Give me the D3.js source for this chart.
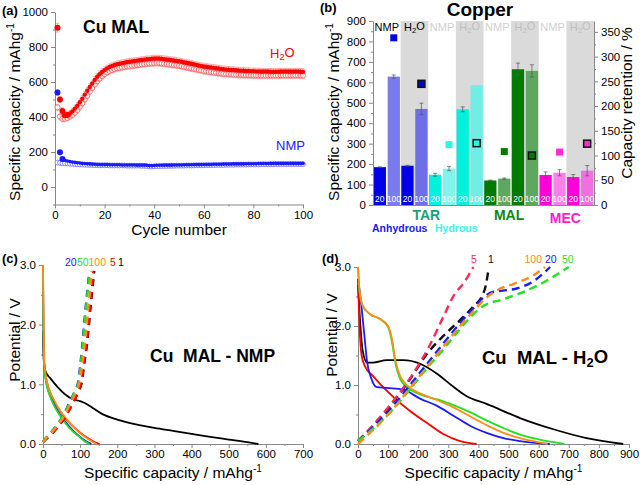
<!DOCTYPE html>
<html>
<head>
<meta charset="utf-8">
<script src="https://cdn.jsdelivr.net/npm/d3@7"></script>
<style>
  body { margin: 0; background: #fff; }
  svg { font-family: "Liberation Sans", Arial, sans-serif; }
  .ax path, .ax line { stroke: #888; }
  .ax text { fill: #000; font-size: 11.5px; }
</style>
</head>
<body>
<svg id="fig" width="640" height="485"></svg>
<script>
// ---------- (a) cycling data, mAh/g per cycle 1..100 ----------
const cycles = d3.range(1, 101);
const h2oFilled = [910,500,435,410,412,420,432,448,465,485,505,528,550,572,592,612,630,645,658,668,
  678,686,692,697,701,705,708,711,714,716,718,720,722,724,726,728,730,731,733,734,
  735,734,733,731,729,727,725,723,721,719,716,713,710,707,704,701,698,695,692,689,
  687,685,683,681,679,677,675,673,671,670,669,668,667,666,665,664,663,663,662,662,
  661,661,660,660,660,660,659,659,659,659,660,660,660,660,660,660,660,660,659,658];
const h2oOpen = [455,402,390,390,395,402,412,425,440,458,478,500,522,545,566,586,604,620,634,645,
  655,663,669,674,678,681,684,687,689,691,693,695,697,699,701,703,705,706,707,708,
  709,708,707,705,703,701,699,697,695,693,690,687,684,681,678,675,672,669,666,663,
  661,659,657,655,653,651,649,647,646,645,644,643,642,641,640,640,639,639,638,638,
  638,637,637,637,637,637,637,637,637,637,638,638,638,638,638,638,638,638,637,637];
const nmpFilled = [540,198,160,153,149,146,143,141,139,137,135,134,133,132,131,130,129,129,128,128,
  128,127,127,127,127,127,126,126,126,126,126,126,125,125,125,125,124,122,122,123,
  124,124,124,125,125,125,125,126,126,126,126,127,127,127,127,128,128,128,128,129,
  129,129,129,130,130,130,130,131,131,131,131,132,132,132,132,132,133,133,133,133,
  133,134,134,134,134,134,135,135,135,135,135,135,135,135,135,135,135,135,135,135];
const nmpOpen = [140,138,136,135,134,133,132,131,130,129,128,127,127,126,126,125,125,124,124,124,
  124,123,123,123,123,123,123,123,122,122,122,122,122,122,121,121,120,117,117,118,
  119,119,120,120,120,121,121,121,122,122,122,122,123,123,123,123,124,124,124,124,
  125,125,125,125,126,126,126,126,127,127,127,127,128,128,128,128,128,129,129,129,
  129,129,130,130,130,130,130,130,131,131,131,131,131,131,131,131,131,131,131,131];
const h2oErr = 18, nmpErr = 4, firstErr = [25, 15];

// ---------- (b) bar data ----------
const groups = ["g1","g2","g3","g4","g5","g6","g7","g8"];
const solvents = ["NMP","H2O","NMP","H2O","NMP","H2O","NMP","H2O"];
const cyc = ["20","100"];
const cap20  = [185,192,148,468,120,664,147,137];
const cap100 = [628,470,178,586,129,656,158,168];
const err20  = [2,2,7,12,2,30,15,12];
const err100 = [8,28,10,0,3,30,15,25];
const retention = [338,245,122,125,108,100,107,124];
const col20  = ["#0000e6","#0000e6","#00f2dd","#00f2dd","#007a00","#007a00","#ff00dc","#ff00dc"];
const col100 = ["#7b7bf0","#6e6ee6","#80f6ea","#70eee6","#5fa65f","#5fa65f","#ff80ea","#f070e0"];

// ---------- (c) Cu MAL - NMP profiles [capacity, V] ----------
const cDis = {
  "1":   [[0,1.9],[2,1.4],[8,1.2],[20,1.1],[40,0.95],[60,0.83],[80,0.75],[100,0.72],[115,0.68],[135,0.6],[160,0.5],[200,0.41],[250,0.33],[300,0.27],[350,0.22],[400,0.17],[450,0.12],[500,0.075],[550,0.03],[580,0]],
  "5":   [[0,3.0],[1,2.0],[3,1.4],[6,1.2],[10,1.05],[20,0.85],[30,0.72],[45,0.56],[60,0.43],[80,0.3],[100,0.19],[120,0.1],[140,0.03],[152,0]],
  "20":  [[0,2.9],[1,2.0],[3,1.35],[6,1.15],[10,1.0],[20,0.8],[30,0.66],[45,0.5],[60,0.37],[80,0.23],[100,0.12],[115,0.05],[130,0]],
  "50":  [[0,2.9],[1,2.0],[3,1.33],[6,1.13],[10,0.98],[20,0.78],[30,0.64],[45,0.48],[60,0.35],[80,0.21],[100,0.11],[113,0.04],[125,0]],
  "100": [[0,3.0],[1,2.3],[3,1.45],[6,1.22],[10,1.06],[20,0.86],[30,0.73],[45,0.57],[60,0.44],[80,0.3],[100,0.18],[120,0.09],[135,0.03],[145,0]]
};
const cChg = {
  "1":   [[0,0.03],[8,0.08],[25,0.18],[42,0.3],[62,0.48],[80,0.68],[95,0.88],[105,1.05],[110,1.3],[117,1.6],[123,1.95],[128,2.3],[133,2.6],[138,2.9]],
  "5":   [[0,0.03],[8,0.08],[25,0.18],[42,0.3],[62,0.48],[80,0.68],[95,0.88],[104,1.05],[109,1.3],[116,1.6],[122,1.95],[127,2.3],[132,2.6],[136,2.9]],
  "20":  [[0,0.03],[5,0.08],[20,0.18],[35,0.3],[55,0.48],[70,0.68],[85,0.88],[95,1.05],[100,1.3],[105,1.6],[110,1.95],[115,2.3],[120,2.6],[125,2.9]],
  "50":  [[0,0.03],[5,0.08],[20,0.18],[35,0.3],[55,0.48],[71,0.68],[86,0.88],[96,1.05],[101,1.3],[106,1.6],[111,1.95],[116,2.3],[121,2.6],[126,2.9]],
  "100": [[0,0.03],[6,0.08],[22,0.18],[38,0.3],[58,0.48],[74,0.68],[89,0.88],[99,1.05],[105,1.3],[111,1.6],[117,1.95],[122,2.3],[127,2.6],[131,2.9]]
};

// ---------- (d) Cu MAL - H2O profiles ----------
const dDis = {
  "1":   [[0,2.7],[8,2.0],[15,1.6],[30,1.38],[50,1.38],[95,1.42],[150,1.42],[206,1.36],[260,1.2],[317,0.97],[361,0.81],[427,0.68],[538,0.44],[649,0.25],[759,0.1],[881,0]],
  "5":   [[0,2.8],[5,2.0],[12,1.5],[23,1.32],[50,1.15],[73,1.02],[117,0.8],[173,0.56],[228,0.36],[283,0.17],[339,0.05],[394,0]],
  "20":  [[0,2.8],[10,2.4],[20,1.9],[30,1.4],[45,1.1],[60,0.97],[95,0.95],[150,0.92],[206,0.77],[261,0.65],[317,0.48],[372,0.31],[427,0.19],[483,0.1],[538,0.05],[637,0]],
  "50":  [[0,3.0],[5,2.6],[15,2.35],[40,2.2],[73,2.12],[100,1.98],[112,1.75],[125,1.35],[140,1.1],[162,0.97],[206,0.84],[260,0.76],[317,0.66],[372,0.54],[427,0.4],[483,0.27],[538,0.16],[600,0.08],[650,0.03],[685,0]],
  "100": [[0,3.0],[5,2.6],[15,2.35],[40,2.2],[73,2.12],[100,2.0],[112,1.8],[125,1.4],[140,1.15],[162,1.0],[206,0.86],[260,0.75],[317,0.62],[372,0.47],[427,0.32],[483,0.19],[538,0.1],[590,0.04],[630,0]]
};
const dChg = {
  "1":   [[0,0.05],[50,0.3],[100,0.6],[173,1.1],[228,1.52],[283,1.83],[339,2.1],[383,2.33],[416,2.55],[425,2.7],[433,2.95]],
  "5":   [[0,0.05],[50,0.32],[100,0.62],[150,0.95],[184,1.2],[233,1.62],[283,2.15],[322,2.55],[350,2.72],[383,3.0]],
  "20":  [[0,0.05],[100,0.55],[173,1.0],[228,1.35],[283,1.7],[339,2.05],[383,2.3],[420,2.5],[450,2.58],[480,2.6],[530,2.64],[580,2.75],[638,3.0]],
  "50":  [[0,0.05],[100,0.5],[173,0.93],[228,1.28],[283,1.6],[339,1.95],[383,2.2],[420,2.35],[480,2.45],[550,2.58],[620,2.75],[700,3.0]],
  "100": [[0,0.0],[100,0.5],[173,0.95],[228,1.3],[283,1.65],[339,2.0],[383,2.25],[420,2.45],[460,2.6],[520,2.72],[580,2.85],[621,3.0]]
};
const cycleColor = { "1": "#000", "5": "#ff0000", "20": "#1a1aff", "50": "#22e022", "100": "#ff8c1a" };

const svg = d3.select("#fig");

function subLabel(sel, pre, sub, post) {
  sel.append("tspan").text(pre);
  sel.append("tspan").attr("font-size", "0.7em").attr("dy", "0.25em").text(sub);
  sel.append("tspan").attr("dy", "-0.25em").text(post);
}
function supLabel(sel, pre, sup) {
  sel.append("tspan").text(pre);
  sel.append("tspan").attr("font-size", "0.65em").attr("dy", "-0.6em").text(sup);
}
function minor(g, axis) {
  g.call(axis.tickFormat("")).call(s => s.select(".domain").remove());
}
const fmt = d3.format("d");

// ================= (a) =================
const xA = d3.scaleLinear().domain([0, 100]).range([55, 303]);
const yA = d3.scaleLinear().domain([-100, 1000]).range([204.5, 12]);
const gA = svg.append("g");
gA.append("g").attr("class", "ax").attr("transform", "translate(0,204.5)")
  .call(d3.axisBottom(xA).tickValues([0,20,40,60,80,100]).tickSize(4).tickPadding(2).tickSizeOuter(0));
minor(gA.append("g").attr("class", "ax").attr("transform", "translate(0,204.5)"),
  d3.axisBottom(xA).tickValues([10,30,50,70,90]).tickSize(2));
gA.append("g").attr("class", "ax").attr("transform", "translate(55,0)")
  .call(d3.axisLeft(yA).tickValues([0,200,400,600,800,1000]).tickFormat(fmt).tickSize(4).tickSizeOuter(0));
minor(gA.append("g").attr("class", "ax").attr("transform", "translate(55,0)"),
  d3.axisLeft(yA).tickValues([-100,100,300,500,700,900]).tickSize(2));

function errBars(g, vals, err, first, color) {
  g.selectAll(null).data(vals).enter().append("path")
    .attr("d", (v, i) => {
      const e = i === 0 ? first : err, x = xA(cycles[i]);
      return `M${x},${yA(v - e)}V${yA(v + e)}M${x-1.5},${yA(v - e)}h3M${x-1.5},${yA(v + e)}h3`;
    })
    .attr("stroke", color).attr("stroke-width", 0.6).attr("fill", "none");
}
errBars(gA, h2oOpen, h2oErr, h2oErr, "#ff9a9a");
errBars(gA, h2oFilled, h2oErr, firstErr[0], "#ff8080");
errBars(gA, nmpFilled, nmpErr, firstErr[1], "#8080ff");

gA.selectAll(null).data(nmpOpen).enter().append("circle")
  .attr("cx", (v, i) => xA(cycles[i])).attr("cy", v => yA(v)).attr("r", 2.4)
  .attr("fill", "#fff").attr("stroke", "#6b6bff").attr("stroke-width", 0.8);
gA.selectAll(null).data(nmpFilled).enter().append("circle")
  .attr("cx", (v, i) => xA(cycles[i])).attr("cy", v => yA(v)).attr("r", (v, i) => i < 3 ? 3 : 1.8)
  .attr("fill", "#1a1aff");
gA.selectAll(null).data(h2oOpen).enter().append("circle")
  .attr("cx", (v, i) => xA(cycles[i])).attr("cy", v => yA(v)).attr("r", 2.6)
  .attr("fill", "#fff").attr("fill-opacity", 0.6).attr("stroke", "#ff5050").attr("stroke-width", 0.8);
gA.selectAll(null).data(h2oFilled).enter().append("circle")
  .attr("cx", (v, i) => xA(cycles[i])).attr("cy", v => yA(v)).attr("r", (v, i) => i < 5 ? 3 : 2.2)
  .attr("fill", "#ff0000");

gA.append("text").attr("x", 2).attr("y", 15).attr("font-weight", "bold").attr("font-size", 13).text("(a)");
gA.append("text").attr("x", 83).attr("y", 33).attr("font-weight", "bold").attr("font-size", 17.5).text("Cu MAL");
subLabel(gA.append("text").attr("x", 270).attr("y", 58).attr("fill", "#ff0000").attr("font-size", 13), "H", "2", "O");
gA.append("text").attr("x", 276).attr("y", 150).attr("fill", "#1a1aff").attr("font-size", 13).text("NMP");
gA.append("text").attr("x", 179).attr("y", 235).attr("text-anchor", "middle").attr("font-size", 15.5).text("Cycle number");
supLabel(gA.append("text").attr("transform", "translate(20,112) rotate(-90)").attr("text-anchor", "middle").attr("font-size", 15.5),
  "Specific capacity / mAhg", "-1");

// ================= (b) =================
const xG = d3.scaleBand().domain(groups).range([373, 594]).padding(0);
const xS = d3.scaleBand().domain(cyc).range([0, xG.bandwidth()]).paddingInner(0.12).paddingOuter(0.05);
const yB = d3.scaleLinear().domain([0, 900]).range([205, 21]);
const yR = d3.scaleLinear().domain([0, 372]).range([205, 21]);
const gB = svg.append("g");

gB.selectAll(null).data(groups.filter((g, i) => solvents[i] === "H2O")).enter().append("rect")
  .attr("x", d => xG(d)).attr("width", xG.bandwidth()).attr("y", yB(900)).attr("height", yB(0) - yB(900))
  .attr("fill", "#dadada");

groups.forEach((g, i) => {
  const vals = [cap20[i], cap100[i]], errs = [err20[i], err100[i]], cols = [col20[i], col100[i]];
  cyc.forEach((c, j) => {
    const x0 = xG(g) + xS(c), w = xS.bandwidth();
    gB.append("rect").attr("x", x0).attr("width", w).attr("y", yB(vals[j])).attr("height", yB(0) - yB(vals[j]))
      .attr("fill", cols[j]);
    if (errs[j] > 0) {
      const xc = x0 + w / 2;
      gB.append("path")
        .attr("d", `M${xc},${yB(vals[j]-errs[j])}V${yB(vals[j]+errs[j])}M${xc-2},${yB(vals[j]-errs[j])}h4M${xc-2},${yB(vals[j]+errs[j])}h4`)
        .attr("stroke", "#555").attr("stroke-width", 0.7).attr("fill", "none");
    }
    gB.append("text").attr("x", x0 + w / 2).attr("y", 202).attr("text-anchor", "middle")
      .attr("fill", "#fff").attr("font-size", 8.5).text(c);
  });
  const isH2O = solvents[i] === "H2O";
  const t = gB.append("text").attr("x", xG(g) + xG.bandwidth() / 2).attr("y", 31).attr("text-anchor", "middle")
    .attr("font-size", 11).attr("fill", i < 2 ? "#000" : (isH2O ? "#c0c0c0" : "#cfcfcf"));
  if (isH2O) subLabel(t, "H", "2", "O"); else t.text("NMP");
  const mx = xG(g) + xS("100") + xS.bandwidth() / 2;
  gB.append("rect").attr("x", mx - 3.5).attr("y", yR(retention[i]) - 3.5).attr("width", 7).attr("height", 7)
    .attr("fill", col20[i] === "#00f2dd" ? "#2af5e6" : (col20[i] === "#ff00dc" ? "#ff2ae0" : col20[i]))
    .attr("stroke", isH2O ? "#111" : "none").attr("stroke-width", isH2O ? 1.5 : 0);
});

gB.append("g").attr("class", "ax").attr("transform", "translate(0,205)")
  .call(d3.axisBottom(xG).tickValues([]).tickSizeOuter(0));
gB.append("g").attr("class", "ax").attr("transform", "translate(373,0)")
  .call(d3.axisLeft(yB).tickValues(d3.range(0, 901, 100)).tickSize(4).tickSizeOuter(0));
minor(gB.append("g").attr("class", "ax").attr("transform", "translate(373,0)"),
  d3.axisLeft(yB).tickValues(d3.range(50, 900, 100)).tickSize(2));
const rAx = gB.append("g").attr("class", "ax").attr("transform", "translate(594,0)")
  .call(d3.axisRight(yR).tickValues(d3.range(0, 351, 50)).tickSize(4).tickSizeOuter(0));
rAx.selectAll("path,line").attr("stroke", "#222");
minor(gB.append("g").attr("class", "ax").attr("transform", "translate(594,0)"),
  d3.axisRight(yR).tickValues(d3.range(25, 372, 50)).tickSize(2));

gB.append("text").attr("x", 320).attr("y", 12).attr("font-weight", "bold").attr("font-size", 13).text("(b)");
gB.append("text").attr("x", 480).attr("y", 16).attr("text-anchor", "middle").attr("font-weight", "bold").attr("font-size", 19).text("Copper");
supLabel(gB.append("text").attr("transform", "translate(339,112) rotate(-90)").attr("text-anchor", "middle").attr("font-size", 15.5),
  "Specific capacity / mAhg", "-1");
gB.append("text").attr("transform", "translate(632,103) rotate(-90)").attr("text-anchor", "middle").attr("font-size", 15.5)
  .text("Capacity retention / %");
gB.append("text").attr("x", xG("g3") - 2).attr("y", 220).attr("text-anchor", "middle").attr("font-size", 14)
  .attr("font-weight", "bold").attr("fill", "#1aa37a").text("TAR");
gB.append("text").attr("x", xG("g6") - 2).attr("y", 220).attr("text-anchor", "middle").attr("font-size", 14)
  .attr("font-weight", "bold").attr("fill", "#0b8a0b").text("MAL");
gB.append("text").attr("x", xG("g8") - 1).attr("y", 222.5).attr("text-anchor", "middle").attr("font-size", 14)
  .attr("font-weight", "bold").attr("fill", "#ff1ad0").text("MEC");
gB.append("text").attr("x", 372).attr("y", 232).attr("font-size", 10.5).attr("font-weight", "bold").attr("fill", "#1a1aee").text("Anhydrous");
gB.append("text").attr("x", 435).attr("y", 232).attr("font-size", 10.5).attr("font-weight", "bold").attr("fill", "#3af2ea").text("Hydrous");

// ================= (c) & (d) =================
function profilePanel(opt) {
  const x = d3.scaleLinear().domain([0, opt.xmax]).range(opt.xr);
  const y = d3.scaleLinear().domain([0, 3]).range(opt.yr);
  const g = svg.append("g");
  g.append("g").attr("class", "ax").attr("transform", `translate(0,${opt.yr[0]})`)
    .call(d3.axisBottom(x).tickValues(d3.range(0, opt.xmax + 1, 100)).tickSize(4).tickPadding(2).tickSizeOuter(0));
  minor(g.append("g").attr("class", "ax").attr("transform", `translate(0,${opt.yr[0]})`),
    d3.axisBottom(x).tickValues(d3.range(50, opt.xmax, 100)).tickSize(2));
  g.append("g").attr("class", "ax").attr("transform", `translate(${opt.xr[0]},0)`)
    .call(d3.axisLeft(y).tickValues([0, 1, 2, 3]).tickSize(4).tickSizeOuter(0));
  minor(g.append("g").attr("class", "ax").attr("transform", `translate(${opt.xr[0]},0)`),
    d3.axisLeft(y).tickValues([0.5, 1.5, 2.5]).tickSize(2));

  const line = d3.line().x(d => x(d[0])).y(d => y(d[1])).curve(d3.curveMonotoneX);
  opt.order.forEach(k => {
    g.append("path").attr("d", line(opt.dis[k])).attr("fill", "none")
      .attr("stroke", cycleColor[k]).attr("stroke-width", 1.8);
  });
  opt.order.forEach(k => {
    g.append("path").attr("d", line(opt.chg[k])).attr("fill", "none")
      .attr("stroke", opt.chgColor[k] || cycleColor[k]).attr("stroke-width", 2.4)
      .attr("stroke-dasharray", opt.dash);
  });
  opt.legend.forEach(l => {
    g.append("text").attr("x", l[1]).attr("y", opt.legY).attr("font-size", 10.5)
      .attr("fill", opt.chgColor[l[0]] || cycleColor[l[0]]).text(l[0]);
  });
  g.append("text").attr("x", opt.tag[0]).attr("y", opt.tag[1]).attr("font-weight", "bold").attr("font-size", 13).text(opt.tag[2]);
  const ti = g.append("text").attr("x", opt.title[0]).attr("y", opt.title[1]).attr("font-weight", "bold")
    .attr("font-size", opt.title[3]).attr("xml:space", "preserve");
  if (opt.title[4]) subLabel(ti, "Cu  MAL - H", "2", "O"); else ti.text(opt.title[2]);
  supLabel(g.append("text").attr("x", (opt.xr[0] + opt.xr[1]) / 2).attr("y", 478).attr("text-anchor", "middle").attr("font-size", 15.5),
    "Specific capacity / mAhg", "-1");
  g.append("text").attr("transform", `translate(${opt.yt[0]},${opt.yt[1]}) rotate(-90)`).attr("text-anchor", "middle")
    .attr("font-size", 15.5).text("Potential / V");
}

profilePanel({
  xmax: 700, xr: [43, 303], yr: [444, 265], dis: cDis, chg: cChg,
  order: ["1", "5", "20", "50", "100"], chgColor: {}, dash: "7,6",
  legend: [["20", 65], ["50", 77], ["100", 88.5], ["5", 110], ["1", 118]], legY: 266,
  tag: [2, 263, "(c)"], title: [150, 362, "Cu  MAL - NMP", 17.5], yt: [20, 340]
});
profilePanel({
  xmax: 900, xr: [358, 629], yr: [444, 267], dis: dDis, chg: dChg,
  order: ["1", "5", "20", "50", "100"], chgColor: { "5": "#ff2a5a", "1": "#111" }, dash: "8,5",
  legend: [["5", 471], ["1", 488], ["100", 524.5], ["20", 545], ["50", 562]], legY: 263,
  tag: [322, 263, "(d)"], title: [482, 364, "", 18.5, true], yt: [337, 335]
});
</script>
</body>
</html>
